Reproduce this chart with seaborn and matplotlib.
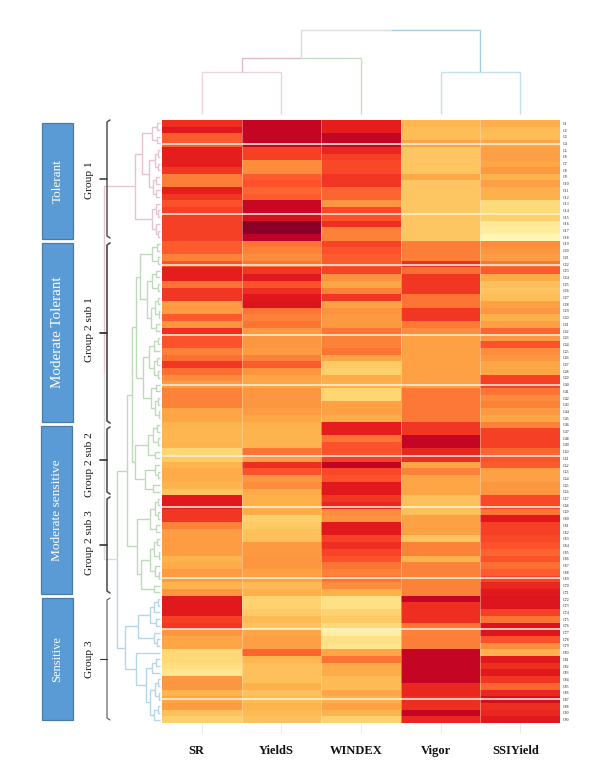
import matplotlib
matplotlib.use("Agg")
import matplotlib.pyplot as plt
from matplotlib.patches import Rectangle
from matplotlib.transforms import ScaledTranslation
import numpy as np
import pandas as pd
import seaborn as sns

FIG_W, FIG_H = 601, 773

traits = ["SR", "YieldS", "WINDEX", "Vigor", "SSIYield"]

# Scaled trait scores per genotype, top to bottom in cluster order
sr = [.70,.75,.60,.60,.74,.74,.74,.68,.53,.53,.74,.68,.62,.66,.66,.66,.66,.66,
      .60,.60,.52,.62,.74,.74,.55,.68,.68,.45,.45,.60,.47,.70,.62,.62,.52,.56,
      .68,.56,.50,.45,.52,.52,.52,.42,.42,.37,.36,.36,.37,.26,.30,.37,.40,.40,
      .37,.32,.75,.75,.68,.68,.52,.45,.45,.45,.45,.37,.40,.45,.45,.37,.47,.75,
      .75,.75,.66,.68,.47,.42,.42,.25,.25,.22,.17,.47,.47,.37,.42,.45,.33,.28]
yields = [.85,.85,.85,.85,.66,.66,.50,.50,.60,.62,.58,.60,.84,.84,.80,.98,.98,.87,
          .55,.52,.50,.55,.68,.75,.62,.70,.76,.78,.55,.52,.55,.46,.47,.47,.45,.52,
          .60,.48,.42,.42,.47,.47,.47,.45,.42,.38,.37,.37,.37,.55,.45,.70,.62,.47,
          .50,.40,.38,.38,.40,.28,.30,.33,.33,.46,.46,.47,.47,.43,.43,.35,.38,.27,
          .27,.30,.35,.32,.42,.44,.44,.58,.36,.33,.33,.33,.38,.33,.35,.37,.35,.33]
windex = [.74,.74,.85,.85,.72,.66,.64,.64,.68,.68,.58,.58,.47,.64,.62,.70,.52,.52,
          .65,.62,.60,.60,.65,.48,.42,.52,.68,.43,.48,.46,.46,.55,.52,.52,.55,.42,
          .30,.28,.40,.38,.26,.26,.43,.43,.40,.74,.74,.55,.62,.62,.66,.86,.64,.62,
          .75,.75,.68,.72,.50,.48,.75,.75,.66,.70,.65,.62,.55,.52,.55,.50,.38,.20,
          .20,.27,.30,.25,.12,.20,.18,.42,.55,.40,.40,.35,.35,.42,.38,.43,.37,.27]
vigor = [.36,.34,.34,.42,.31,.31,.31,.31,.41,.31,.31,.31,.31,.31,.31,.31,.31,.31,
         .53,.53,.53,.70,.56,.68,.68,.68,.55,.55,.68,.68,.54,.50,.43,.43,.43,.43,
         .43,.43,.43,.43,.54,.54,.54,.54,.54,.68,.68,.85,.85,.72,.70,.42,.52,.42,
         .42,.42,.33,.33,.33,.43,.43,.43,.32,.52,.52,.37,.52,.52,.52,.52,.52,.85,
         .70,.70,.70,.55,.52,.53,.53,.85,.85,.85,.85,.85,.72,.72,.70,.70,.85,.72]
ssiyield = [.39,.35,.34,.42,.44,.44,.42,.46,.37,.44,.38,.38,.24,.24,.28,.15,.13,.07,
            .50,.47,.45,.55,.60,.40,.33,.32,.34,.43,.47,.38,.44,.58,.47,.62,.50,.47,
            .42,.42,.66,.66,.55,.50,.52,.46,.42,.52,.66,.66,.66,.58,.62,.60,.43,.43,
            .47,.47,.64,.64,.55,.76,.66,.66,.64,.62,.58,.62,.56,.60,.65,.72,.75,.77,
            .77,.66,.55,.78,.77,.62,.50,.37,.75,.70,.75,.68,.58,.72,.80,.70,.72,.75]

genotypes = [f"G{i}" for i in range(1, len(sr) + 1)]

# Thin pale rules that divide the matrix, in row units
rule_rows = [3.65, 14.1, 21.7, 32.1, 39.6, 50.2, 57.8, 68.4, 76.0, 86.4]

PINK, GREEN, BLUE, GREY = "#e6c3cf", "#bfdabb", "#b4d6e6", "#dcdcdc"


def pair(d):
    return (d, 0, 0)


# Row tree: (merge distance, child, child[, colour]); 0 is a leaf
g1_upper = (20, (10, pair(5), pair(5)), (13, (7, pair(4), pair(4)), (9, pair(6), pair(6))))
g1_lower = (10, (6, 0, pair(4)), (6, 0, pair(4)))
group1 = (27, g1_upper, g1_lower, PINK)

s1_a = (22, (10, pair(5), pair(4)),
        (15, (10, pair(6), pair(4)), (11, (7, pair(4), pair(3)), pair(6))))
s1_b = (19, (13, (8, pair(4), 0), (8, pair(5), pair(4))),
        (11, pair(6), (7, pair(4), pair(3))))
group2_sub1 = (26, s1_a, s1_b)
group2_sub2 = (27, (14, (9, pair(5), pair(4)), pair(7)),
               (17, (7, 0, pair(4)), pair(9)))
group2_sub3 = (25, (12, (7, pair(4), pair(4)), pair(6)),
               (21, (12, (8, pair(5), pair(3)), (7, 0, pair(3))), pair(8)))
group2 = (35, (30, group2_sub1, group2_sub2), group2_sub3, GREEN)
g3_upper = (24, (12, (8, pair(4), 0), pair(6)), (8, 0, pair(5)))
g3_lower = (26, 0, (16, (10, pair(6), 0), (12, (7, pair(4), pair(3)), (8, pair(4), 0))))
group3 = (37, g3_upper, g3_lower, BLUE)
row_tree = (58, group1, (45, group2, group3, GREY), PINK)

# Trait tree: string leaves carry their own link colour
trait_tree = (90, (62, (48, "#ecd3da", "#ecd3da", "#e2b9c6"), "#c9dec6", GREY),
              (48, "#c3e0ec", "#c3e0ec", "#a5cde0"), GREY)


def draw_tree(node, place, color, counter, leaf_d):
    """Draw a nested merge tree; place(d, pos) maps distance and leaf position to x, y."""
    if not isinstance(node, tuple):
        pos = counter[0] + 0.5
        counter[0] += 1
        return leaf_d, pos, node if isinstance(node, str) else color
    dist, left, right = node[:3]
    own = node[3] if len(node) > 3 else color
    kids = [draw_tree(c, place, own, counter, leaf_d) for c in (left, right)]
    mid = (kids[0][1] + kids[1][1]) / 2
    for d, pos, col in kids:
        xs, ys = zip(place(d, pos), place(dist, pos), place(dist, mid))
        place.ax.plot(xs, ys, color=col, lw=1.0, solid_capstyle="butt", solid_joinstyle="miter")
    return dist, mid, own


def px_axes(fig, left, top, right, bottom):
    return fig.add_axes([left / FIG_W, 1 - bottom / FIG_H,
                         (right - left) / FIG_W, (bottom - top) / FIG_H])


sns.set_theme(style="white")
plt.rcParams["font.family"] = ["Liberation Serif", "DejaVu Serif"]

fig = plt.figure(figsize=(FIG_W / 100, FIG_H / 100), dpi=100, facecolor="white")

# Heatmap
scores = pd.DataFrame({"SR": sr, "YieldS": yields, "WINDEX": windex,
                       "Vigor": vigor, "SSIYield": ssiyield}, index=genotypes)[traits]
ax = px_axes(fig, 162, 120, 560, 723)
sns.heatmap(scores, cmap="YlOrRd", vmin=0, vmax=1, cbar=False, ax=ax,
            xticklabels=True, yticklabels=True)
ax.set_xlabel("")
ax.set_ylabel("")
for r in rule_rows:
    ax.axhline(r, color="#fff3df", lw=1.1, clip_on=False)
for c in range(1, len(traits)):
    ax.axvline(c, color="#ffe9c8", lw=0.5, alpha=0.6)
ax.tick_params(axis="x", length=7, width=0.7, color="#ebebeb", pad=9, bottom=True)
ax.tick_params(axis="y", left=False, right=False, labelleft=False, labelright=True,
               length=0, pad=2)
for lbl in ax.get_xticklabels():
    lbl.set_rotation(0)
    lbl.set_fontweight("bold")
    lbl.set_fontsize(9)
    lbl.set_color("#111111")
    lbl.set_transform(lbl.get_transform() + ScaledTranslation(-0.05, 0, fig.dpi_scale_trans))
for lbl in ax.get_yticklabels():
    lbl.set_rotation(0)
    lbl.set_fontsize(2.8)
    lbl.set_color("#222222")

# Row dendrogram
ax_left = px_axes(fig, 100, 120, 162, 723)
ax_left.set_xlim(62, 0)
ax_left.set_ylim(len(sr), 0)
ax_left.axis("off")


def row_place(d, pos):
    return d, pos


row_place.ax = ax_left
draw_tree(row_tree, row_place, PINK, [0], 2)

# Trait dendrogram
ax_top = px_axes(fig, 162, 25, 560, 120)
ax_top.set_xlim(0, len(traits))
ax_top.set_ylim(0, 95)
ax_top.axis("off")


def col_place(d, pos):
    return pos, d


col_place.ax = ax_top
draw_tree(trait_tree, col_place, GREY, [0], 6)

# Annotation layer in figure pixels
ann = fig.add_axes([0, 0, 1, 1], facecolor="none")
ann.set_xlim(0, FIG_W)
ann.set_ylim(FIG_H, 0)
ann.axis("off")

boxes = [("Tolerant", 42, 123, 239, 9.5), ("Moderate Tolerant", 42, 243, 422, 10.8),
         ("Moderate sensitive", 41, 426, 594, 9.6), ("Sensitive", 42, 598, 720, 9)]
for name, x0, y0, y1, size in boxes:
    ann.add_patch(Rectangle((x0, y0), 31, y1 - y0, facecolor="#5b9bd5",
                            edgecolor="#4a7ba8", lw=0.9))
    ann.text(x0 + 15.5, (y0 + y1) / 2, name, rotation=90, color="white",
             ha="center", va="center", fontsize=size)

brackets = [("Group 1", 120, 238, 179, 1.1, 180), ("Group 2 sub 1", 243, 423, 333, 1.3, 330),
            ("Group 2 sub 2", 427, 494, 460, 1.2, 465), ("Group 2 sub 3", 497, 593, 545, 1.2, 543),
            ("Group 3", 598, 720, 659, 0.8, 659)]
for name, y0, y1, ymid, lw, ytext in brackets:
    ann.plot([110, 107, 107, 110], [y0, y0 + 2, y1 - 2, y1], color="#555555", lw=lw)
    ann.plot([100, 107], [ymid, ymid], color="#333333", lw=lw)
    ann.text(90, ytext, name, rotation=90, color="#111111", ha="center", va="center", fontsize=8.2)

fig.savefig("out.png", dpi=100, facecolor="white")
